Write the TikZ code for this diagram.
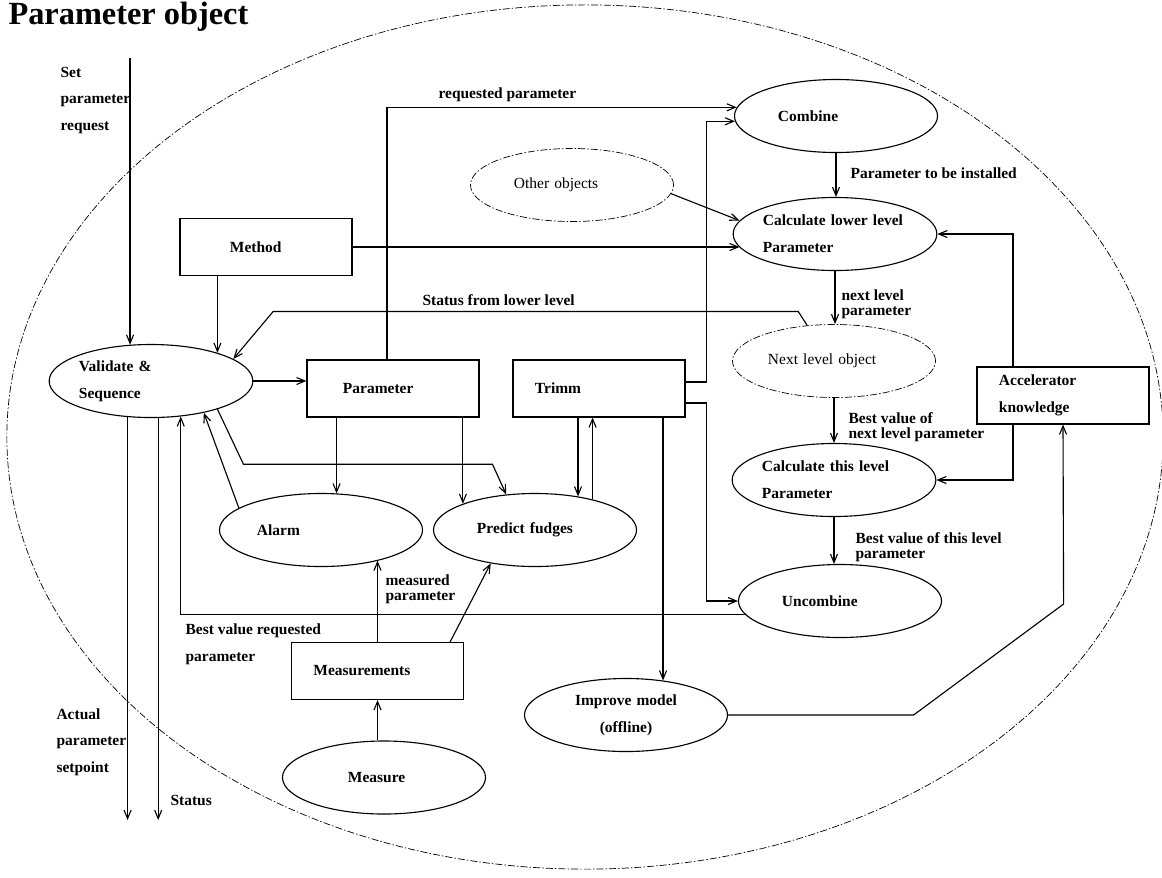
\documentclass[tikz,border=0pt]{standalone}
\usepackage{fontspec}
\setmainfont{Liberation Serif}
\usetikzlibrary{shapes.geometric,arrows.meta,calc}

\begin{document}
\begin{tikzpicture}[
x=0.025cm, y=-0.025cm,
line width=0.8pt,
>={Straight Barb[length=6pt,width=5pt]},
every node/.style={font=\bfseries\fontsize{11}{19}\selectfont},
oval/.style={ellipse, draw, minimum width=5.075cm, minimum height=1.825cm, inner sep=0pt, text width=#1, align=left},
oval/.default=2.9cm,
box/.style={rectangle, draw, minimum width=4.3cm, minimum height=1.425cm, inner sep=0pt, text width=#1, align=left},
box/.default=3.2cm,
dashdot/.style={line width=0.5pt, dash pattern=on 5pt off 1.5pt on 1pt off 1.5pt},
plain/.style={font=\fontsize{11}{19}\selectfont},
lbl/.style={anchor=west, inner sep=0pt, align=left},
tight/.style={font=\bfseries\fontsize{11}{10.5}\selectfont}
]
\useasboundingbox (0,0) rectangle (1162,877);
\node[lbl, font=\bfseries\fontsize{23}{26}\selectfont] (title) at (8,17) {Parameter object};
\draw[dashdot] (585,437) ellipse [x radius=14.45cm, y radius=10.8cm];

% boxes
\node[box=1.8cm] (method) at (266,247) {Method};
\node[box=2.5cm] (param) at (393,388.5) {Parameter};
\node[box] (trimm) at (599,388.5) {Trimm};
\node[box] (acc) at (1063,395.5) {Accelerator\\knowledge};
\node[box] (meas) at (377.5,671) {Measurements};

% ellipses
\node[oval=3.6cm] (val) at (151,381) {Validate \&\\Sequence};
\node[oval] (comb) at (836,116) {Combine};
\node[oval, dashdot, plain] (other) at (572,185) {Other objects};
\node[oval=3.6cm] (calcl) at (835,234) {Calculate lower level\\Parameter};
\node[oval=3.3cm, dashdot, plain] (next) at (834,361) {Next level object};
\node[oval=3.6cm] (calct) at (834,480) {Calculate this level\\Parameter};
\node[oval] (uncomb) at (840,601) {Uncombine};
\node[oval=3.2cm] (alarm) at (321,530) {Alarm};
\node[oval] (pred) at (535,530) {Predict fudges};
\node[oval, align=center] (impr) at (626,715) {Improve model\\(offline)};
\node[oval=1.8cm] (measure) at (384,777.5) {Measure};

% labels
\node[lbl] (setlbl) at (60,100.5) {Set\\parameter\\request};
\node[lbl] (actlbl) at (56,742) {Actual\\parameter\\setpoint};
\node[lbl] (statlbl) at (170,800) {Status};
\node[lbl] (reqlbl) at (438,95) {requested parameter};
\node[lbl] (lowlbl) at (422,300) {Status from lower level};
\node[lbl] (instlbl) at (850,173) {Parameter to be installed};
\node[lbl, tight] (nextlbl) at (841,304.5) {next level\\parameter};
\node[lbl, tight] (bestnlbl) at (848,427) {Best value of\\next level parameter};
\node[lbl, tight] (besttlbl) at (855,547) {Best value of this level\\parameter};
\node[lbl, tight] (measlbl) at (385,589.5) {measured\\parameter};
\node[lbl] (bestrlbl) at (185,644.5) {Best value requested\\parameter};

% in and out
\coordinate (setin) at (130,58);
\coordinate (actout) at (128,820);
\draw[->] (val.120 |- setin) -- (val.120);
\draw[->] (val.237) -- (val.237 |- actout);
\draw[->] (val.-79) -- (val.-79 |- actout);

% connectors
\draw[->] (val.23 |- method.south) -- (val.23);
\draw[->] (method.east) -- (calcl.188 |- method.east);
\draw[->] (val.east) -- (val.east -| param.west);
\draw[->] ($(param.north)+(-6,0)$) |- (comb.175);
\draw[->] ($(trimm.east)+(0,-6.5)$) -- ++(21,0) |- (comb.183);
\draw[->] (other.-5) -- (calcl.172);
\draw[->] (comb.south) -- (comb.south |- calcl.north);
\draw[->] (calcl.south) -- (calcl.south |- next.north);
\draw[->] (next.south) -- (next.south |- calct.north);
\draw[->] (calct.south) -- (calct.south |- uncomb.north);
\draw[->] ($(acc.north)+(-50,0)$) |- (calcl.east);
\draw[->] ($(acc.south)+(-50,0)$) |- (calct.east);
\draw[->] (next.127) -- ++(-9,-14) -- ++(-525,0) -- (val.15);
\draw[->] (alarm.67 |- param.south) -- (alarm.67);
\draw[->] (pred.160 |- param.south) -- (pred.160);
\draw[->] (val.-23) -- ++(26,55) -- ++(249,0) -- (pred.129);
\draw[->] (pred.38 |- trimm.south) -- (pred.38);
\draw[->] (pred.28) -- (pred.28 |- trimm.south);
\draw[->] (alarm.165) -- (val.-31);
\draw[->] (meas.north) -- (meas.north |- alarm.-28);
\draw[->] ($(meas.north east)+(-14,0)$) -- (pred.217);
\draw[->] (measure.north -| meas.south) -- (meas.south);
\draw[->] ($(trimm.east)+(0,14.5)$) -- ++(21,0) |- (uncomb.west);
\draw[->] (uncomb.188) -| (val.-50);
\draw[->] (impr.43 |- trimm.south) -- (impr.43);
\draw[->] (impr.east) -- ++(185.5,0) -- ++(150,-111) -- (acc.south);
\end{tikzpicture}
\end{document}
